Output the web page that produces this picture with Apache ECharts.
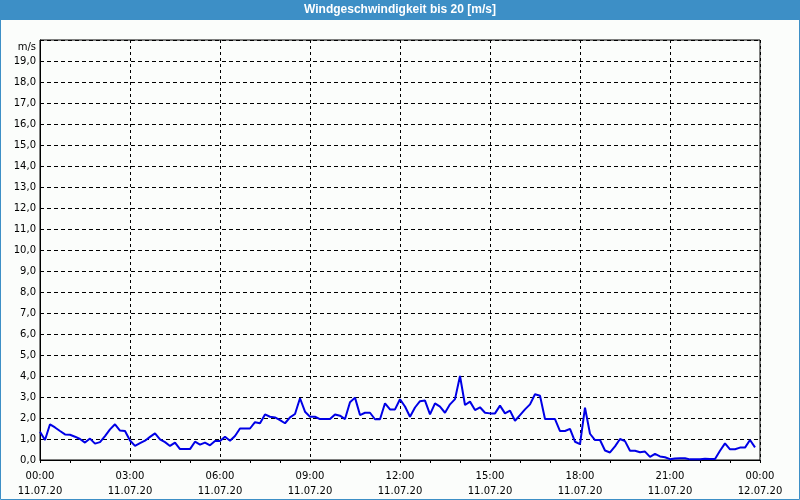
<!DOCTYPE html>
<html><head><meta charset="utf-8">
<script src="https://cdn.jsdelivr.net/npm/echarts@6/dist/echarts.min.js"></script>
<style>html,body{margin:0;padding:0;background:#fbfdfb}#c{width:800px;height:500px}</style>
</head><body><div id="c"></div>
<script>
const chartTitle = 'Windgeschwindigkeit bis 20 [m/s]';
const unitLabel = 'm/s';
const sampleStepMinutes = 10;
const windSpeed = [
  1.35,0.95,1.7,1.55,1.38,1.22,1.2,1.11,1.0,0.83,
  1.02,0.78,0.85,1.14,1.46,1.7,1.4,1.38,0.93,0.67,
  0.8,0.92,1.1,1.27,0.98,0.85,0.67,0.83,0.52,0.52,
  0.52,0.87,0.73,0.83,0.7,0.9,0.9,1.11,0.92,1.14,
  1.5,1.5,1.5,1.8,1.75,2.17,2.06,2.03,1.9,1.75,
  2.03,2.19,2.94,2.3,2.06,2.06,1.95,1.95,1.95,2.17,
  2.11,1.95,2.75,2.97,2.14,2.25,2.25,1.94,1.94,2.7,
  2.41,2.41,2.89,2.55,2.06,2.5,2.8,2.83,2.17,2.7,
  2.54,2.25,2.65,2.9,4.0,2.62,2.78,2.38,2.51,2.25,
  2.22,2.22,2.59,2.22,2.35,1.87,2.14,2.41,2.65,3.13,
  3.06,1.95,1.95,1.95,1.38,1.38,1.48,0.87,0.76,2.49,
  1.25,0.95,0.95,0.45,0.36,0.65,1.0,0.9,0.44,0.44,
  0.37,0.4,0.15,0.29,0.17,0.13,0.04,0.07,0.08,0.08,
  0.03,0.03,0.04,0.06,0.05,0.05,0.44,0.79,0.51,0.51,
  0.59,0.59,0.95,0.6
];
const tickTimes = ['00:00','03:00','06:00','09:00','12:00','15:00','18:00','21:00','00:00'];
const tickDates = ['11.07.20','11.07.20','11.07.20','11.07.20','11.07.20','11.07.20','11.07.20','11.07.20','12.07.20'];
const yMax = 20;

const chart = echarts.init(document.getElementById('c'), null, {renderer:'canvas'});
const FONT = 'DejaVu Sans';
chart.setOption({
  animation: false,
  backgroundColor: '#fbfdfb',
  title: {
    text: chartTitle, left: 'center', top: 4, padding: 0,
    textStyle: {color:'#ffffff', fontSize: 12, fontWeight:'bold', fontFamily: 'Liberation Sans'}
  },
  graphic: [
    {type:'rect', z: 0, shape:{x:0,y:0,width:800,height:20}, style:{fill:'#3d8fc6'}},
    {type:'rect', z: 0, shape:{x:0.5,y:0.5,width:799,height:499}, style:{fill:null, stroke:'#3d8fc6', lineWidth:1}}
  ],
  grid: {left:40, right:40, top:40, bottom:40, show:true, borderColor:'#000', borderWidth:1, backgroundColor:'transparent'},
  xAxis: {
    type:'value', min:0, max:1440, interval:180,
    axisLine:{show:true, lineStyle:{color:'#000', width:1}},
    axisTick:{show:true, length:3, lineStyle:{color:'#000'}},
    minorTick:{show:true, splitNumber:3, length:3, lineStyle:{color:'#000'}},
    splitLine:{show:true, lineStyle:{color:'#000', width:1, type:[3,3]}},
    axisLabel:{
      margin: 9, color:'#000', fontFamily: FONT, fontSize: 10, lineHeight: 15,
      formatter: v => { const k = Math.round(v/180); return tickTimes[k] + '\n' + tickDates[k]; }
    }
  },
  yAxis: {
    type:'value', min:0, max:yMax, interval:1,
    name: unitLabel, nameLocation:'end', nameGap:-7,
    nameTextStyle:{color:'#000', fontFamily: FONT, fontSize:10, align:'right', verticalAlign:'middle', padding:[0,4,0,0]},
    axisLine:{show:true, lineStyle:{color:'#000', width:1}},
    axisTick:{show:false},
    splitLine:{show:true, lineStyle:{color:'#000', width:1, type:[4,3]}},
    axisLabel:{
      margin: 4, color:'#000', fontFamily: FONT, fontSize: 10,
      formatter: v => v >= yMax ? '' : v.toFixed(1).replace('.', ',')
    }
  },
  series: [{
    type:'line', showSymbol:false, symbol:'none',
    lineStyle:{color:'#0000e6', width:2},
    data: windSpeed.map((v,i) => [i*sampleStepMinutes, v])
  }]
});
</script></body></html>
